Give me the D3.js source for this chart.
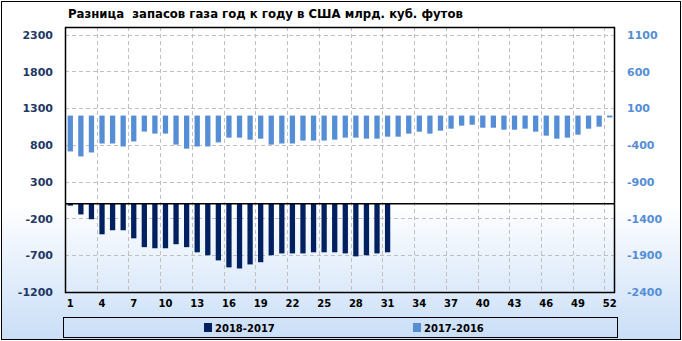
<!DOCTYPE html>
<html>
<head>
<meta charset="utf-8">
<script src="https://cdn.jsdelivr.net/npm/d3@7"></script>
<style>
    body { margin: 0; background: #fff; }
    svg { display: block; }
</style>
</head>
<body>
<div class="gas-chart-container"></div>
<script>
// данные
const weeks = d3.range(1, 53);
const diff2018 = [-25, -145, -210, -415, -360, -360, -470, -590, -605, -605,
    -550, -590, -660, -700, -770, -865, -880, -825, -795, -700,
    -675, -675, -675, -660, -660, -660, -675, -715, -700, -675, -660];
const diff2017 = [-488, -556, -502, -380, -380, -420, -352, -218, -245, -245,
    -395, -450, -420, -420, -365, -300, -300, -328, -314, -395,
    -380, -380, -340, -340, -340, -328, -300, -300, -314, -314,
    -287, -287, -246, -219, -246, -205, -178, -137, -124, -165,
    -165, -192, -192, -178, -219, -273, -314, -300, -260, -178, -151, -25];
const leftTicks = [-1200, -700, -200, 300, 800, 1300, 1800, 2300];
const rightTicks = [-2400, -1900, -1400, -900, -400, 100, 600, 1100];
const xTickWeeks = [1, 4, 7, 10, 13, 16, 19, 22, 25, 28, 31, 34, 37, 40, 43, 46, 49, 52];
const seriesNames = ["2018-2017", "2017-2016"];
const title = "Разница  запасов газа год к году в США млрд. куб. футов";

function drawChart() {
    const width = 682;
    const height = 341;
    const plot = { left: 65, right: 615, top: 27, bottom: 292 };
    const darkBlue = "#002060";
    const lightBlue = "#558ED5";

    const svg = d3
        .select(".gas-chart-container")
        .append("svg")
        .attr("width", width)
        .attr("height", height)
        .style("font-family", "'DejaVu Sans', sans-serif");

    // фон с градиентом
    const grad = svg.append("defs")
        .append("linearGradient")
        .attr("id", "bg")
        .attr("x1", 0).attr("y1", 0).attr("x2", 0).attr("y2", 1);
    grad.append("stop").attr("offset", "0.6").attr("stop-color", "#ffffff");
    grad.append("stop").attr("offset", "1").attr("stop-color", "#c9def7");

    svg.append("rect")
        .attr("x", 1.5).attr("y", 1.5)
        .attr("width", width - 3).attr("height", height - 3)
        .attr("fill", "url(#bg)")
        .attr("stroke", "#000")
        .attr("stroke-width", 1);

    // шкалы
    const xScale = d3
        .scaleBand()
        .domain(weeks)
        .range([plot.left, plot.right])
        .paddingInner(0.5)
        .paddingOuter(0.25);
    const step = xScale.step();

    const yLeft = d3.scaleLinear().domain([-1200, 2405]).range([plot.bottom, plot.top]);
    const yRight = d3.scaleLinear().domain([-2400, 1205]).range([plot.bottom, plot.top]);

    // сетка
    const grid = svg.append("g")
        .attr("stroke", "#c0c0c0")
        .attr("stroke-width", 1)
        .attr("stroke-dasharray", "4,3");

    grid.selectAll("line.h")
        .data(leftTicks.slice(1))
        .join("line")
        .attr("class", "h")
        .attr("x1", plot.left).attr("x2", plot.right)
        .attr("y1", (d) => Math.round(yLeft(d)) + 0.5)
        .attr("y2", (d) => Math.round(yLeft(d)) + 0.5);

    const gridWeeks = xTickWeeks.slice(1);
    grid.selectAll("line.v")
        .data(gridWeeks)
        .join("line")
        .attr("class", "v")
        .attr("x1", (d) => Math.round(xScale(d) - step * 0.25) + 0.5)
        .attr("x2", (d) => Math.round(xScale(d) - step * 0.25) + 0.5)
        .attr("y1", plot.top).attr("y2", plot.bottom);

    // столбцы 2017-2016 (правая ось)
    svg.append("g")
        .attr("fill", lightBlue)
        .selectAll("rect")
        .data(diff2017)
        .join("rect")
        .attr("x", (d, i) => xScale(weeks[i]))
        .attr("width", xScale.bandwidth())
        .attr("y", (d) => yRight(Math.max(0, d)))
        .attr("height", (d) => Math.abs(yRight(d) - yRight(0)));

    // столбцы 2018-2017 (левая ось)
    svg.append("g")
        .attr("fill", darkBlue)
        .selectAll("rect")
        .data(diff2018)
        .join("rect")
        .attr("x", (d, i) => xScale(weeks[i]))
        .attr("width", xScale.bandwidth())
        .attr("y", (d) => yLeft(Math.max(0, d)))
        .attr("height", (d) => Math.abs(yLeft(d) - yLeft(0)));

    // нулевая линия
    svg.append("line")
        .attr("x1", plot.left).attr("x2", plot.right)
        .attr("y1", yLeft(0)).attr("y2", yLeft(0))
        .attr("stroke", "#000")
        .attr("stroke-width", 1.5);

    // рамка области построения
    svg.append("rect")
        .attr("x", plot.left + 0.5).attr("y", plot.top + 0.5)
        .attr("width", plot.right - plot.left - 1)
        .attr("height", plot.bottom - plot.top)
        .attr("fill", "none")
        .attr("stroke", "#000")
        .attr("stroke-width", 1.5);

    // левая ось
    const yAxisLeft = d3.axisLeft(yLeft).tickValues(leftTicks).tickSize(0).tickPadding(0).tickFormat((d) => String(d));
    const leftGroup = svg.append("g")
        .attr("transform", `translate(53,0)`)
        .call(yAxisLeft);
    leftGroup.select(".domain").remove();
    leftGroup.selectAll("text")
        .attr("fill", "#1F3864")
        .style("font-size", "11px")
        .style("font-weight", "bold")
        .style("font-family", "'DejaVu Sans', sans-serif");

    // правая ось
    const yAxisRight = d3.axisRight(yRight).tickValues(rightTicks).tickSize(0).tickPadding(0).tickFormat((d) => String(d));
    const rightGroup = svg.append("g")
        .attr("transform", `translate(627,0)`)
        .call(yAxisRight);
    rightGroup.select(".domain").remove();
    rightGroup.selectAll("text")
        .attr("fill", lightBlue)
        .style("font-size", "11px")
        .style("font-weight", "bold")
        .style("font-family", "'DejaVu Sans', sans-serif");

    // ось X
    const xAxis = d3.axisBottom(xScale).tickValues(xTickWeeks).tickSize(0).tickPadding(0);
    const xGroup = svg.append("g")
        .attr("transform", `translate(0,${plot.bottom + 8})`)
        .call(xAxis);
    xGroup.select(".domain").remove();
    xGroup.selectAll("text")
        .attr("fill", "#000")
        .style("font-size", "10px")
        .style("font-weight", "bold")
        .style("font-family", "'DejaVu Sans', sans-serif");

    // заголовок
    svg.append("text")
        .attr("x", 68)
        .attr("y", 18)
        .style("font-family", "'DejaVu Sans Condensed', 'DejaVu Sans', sans-serif")
        .style("font-size", "13px")
        .style("font-weight", "bold")
        .style("white-space", "pre")
        .attr("fill", "#000")
        .text(title);

    // легенда
    svg.append("rect")
        .attr("x", 63.5).attr("y", 317.5)
        .attr("width", 554).attr("height", 20)
        .attr("fill", "none")
        .attr("stroke", "#000")
        .attr("stroke-width", 1);

    const legendX = [204, 413];
    const legendColor = d3.scaleOrdinal().domain(seriesNames).range([darkBlue, lightBlue]);
    const items = svg.append("g")
        .selectAll("g")
        .data(seriesNames)
        .join("g")
        .attr("transform", (d, i) => `translate(${legendX[i]},323)`);
    items.append("rect")
        .attr("width", 8).attr("height", 9)
        .attr("fill", (d) => legendColor(d));
    items.append("text")
        .attr("x", 11).attr("y", 8.5)
        .style("font-size", "10px")
        .style("font-weight", "bold")
        .attr("fill", "#000")
        .text((d) => d);
}

drawChart();
</script>
</body>
</html>
